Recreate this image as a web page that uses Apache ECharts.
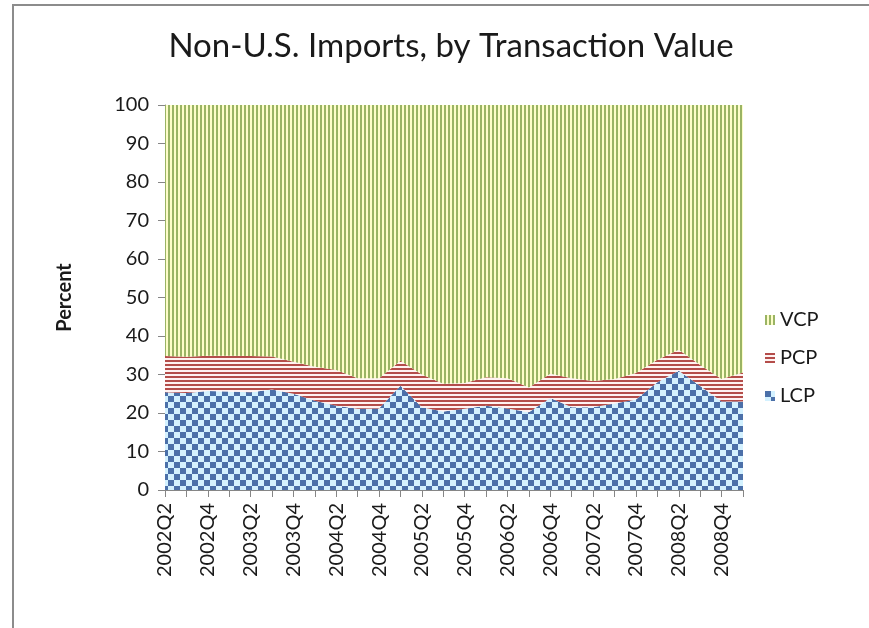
<!DOCTYPE html>
<html>
<head>
<meta charset="utf-8">
<script src="https://cdn.jsdelivr.net/npm/echarts@6/dist/echarts.min.js"></script>
<style>
    body { margin: 0; background: #fff; overflow: hidden; }
    #chart { width: 869px; height: 628px; }
    #frame {
        position: absolute; left: 12px; top: 4px; width: 880px; height: 640px;
        border-top: 2px solid #8c8c8c; border-left: 2px solid #8c8c8c;
        pointer-events: none;
    }
</style>
</head>
<body>
<div id="chart"></div>
<div id="frame"></div>
<script>
// quarters on the x axis
var quarters = ['2002Q2', '2002Q3', '2002Q4', '2003Q1', '2003Q2', '2003Q3', '2003Q4',
    '2004Q1', '2004Q2', '2004Q3', '2004Q4', '2005Q1', '2005Q2', '2005Q3', '2005Q4',
    '2006Q1', '2006Q2', '2006Q3', '2006Q4', '2007Q1', '2007Q2', '2007Q3', '2007Q4',
    '2008Q1', '2008Q2', '2008Q3', '2008Q4', '2009Q1'];

// shares of transaction value, percent
var lcp = [25.4, 25.2, 25.7, 25.6, 25.4, 26.1, 25.0, 23.2, 21.9, 21.1, 21.2, 27.1, 21.5, 20.4,
    21.1, 21.9, 21.2, 20.2, 23.9, 21.5, 21.5, 22.5, 23.5, 28.0, 31.0, 27.0, 23.0, 23.0];
var pcp = [9.4, 9.4, 9.2, 9.3, 9.4, 8.6, 8.3, 8.8, 9.3, 7.9, 7.8, 6.5, 8.5, 7.2,
    6.7, 7.4, 7.8, 6.4, 6.3, 7.5, 6.8, 6.3, 6.9, 5.8, 5.4, 5.5, 5.8, 7.5];
var vcp = [65.2, 65.4, 65.1, 65.1, 65.2, 65.3, 66.7, 68.0, 68.8, 71.0, 71.0, 66.4, 70.0, 72.4,
    72.2, 70.7, 71.0, 73.4, 69.8, 71.0, 71.7, 71.2, 69.6, 66.2, 63.6, 67.5, 71.2, 69.5];

var yTicks = [0, 10, 20, 30, 40, 50, 60, 70, 80, 90, 100];

// small canvas tiles used as fill patterns (Excel style hatches)
function makeTile(size, bg, fg, paint) {
    var c = document.createElement('canvas');
    c.width = size;
    c.height = size;
    var ctx = c.getContext('2d');
    ctx.fillStyle = bg;
    ctx.fillRect(0, 0, size, size);
    ctx.fillStyle = fg;
    paint(ctx, size);
    return { image: c, repeat: 'repeat' };
}

var checker = makeTile(12, '#d3f1ff', '#4b70a9', function (ctx, s) {
    ctx.fillRect(0, 0, s / 2, s / 2);
    ctx.fillRect(s / 2, s / 2, s / 2, s / 2);
});
var hStripes = makeTile(4, '#fff2f1', '#b44d4a', function (ctx, s) {
    ctx.fillRect(0, 0, s, 2);
});
var vStripes = makeTile(4, '#fdfdc8', '#9ab464', function (ctx, s) {
    ctx.fillRect(0, 0, 2, s);
});

function areaSeries(name, data, fill) {
    return {
        name: name,
        type: 'line',
        stack: 'total',
        data: data,
        symbol: 'none',
        lineStyle: { width: 0 },
        itemStyle: { color: fill },
        areaStyle: { color: fill, opacity: 1 },
        emphasis: { disabled: true }
    };
}

var myChart = echarts.init(document.getElementById('chart'));

var font = 'Lato, "Open Sans", sans-serif';

var option = {
    animation: false,
    textStyle: { fontFamily: font, color: '#1a1a1a' },
    title: {
        text: 'Non-U.S. Imports, by Transaction Value',
        left: 446,
        textAlign: 'center',
        top: 25,
        textStyle: { fontFamily: font, fontSize: 33, fontWeight: 'normal', color: '#1a1a1a' }
    },
    legend: {
        orient: 'vertical',
        left: 760,
        top: 305,
        itemGap: 18,
        itemWidth: 10,
        itemHeight: 10,
        icon: 'rect',
        data: ['VCP', 'PCP', 'LCP'],
        textStyle: { fontFamily: font, fontSize: 20, color: '#1a1a1a' }
    },
    grid: {
        left: 165,
        right: 126,
        top: 105,
        bottom: 138
    },
    xAxis: {
        type: 'category',
        boundaryGap: false,
        data: quarters,
        axisLine: { lineStyle: { color: '#868686', width: 1 } },
        axisTick: { interval: 0, length: 7, lineStyle: { color: '#868686' } },
        axisLabel: {
            interval: 1,
            rotate: 90,
            margin: 13,
            fontSize: 20,
            fontFamily: font,
            color: '#1a1a1a'
        }
    },
    yAxis: {
        type: 'value',
        min: yTicks[0],
        max: yTicks[yTicks.length - 1],
        interval: 10,
        name: 'Percent',
        nameLocation: 'middle',
        nameGap: 90,
        nameTextStyle: { fontFamily: font, fontSize: 20, fontWeight: 'bold', color: '#1a1a1a' },
        axisLine: { show: true, lineStyle: { color: '#868686', width: 1 } },
        axisTick: { show: true, length: 7, lineStyle: { color: '#868686' } },
        splitLine: { show: false },
        axisLabel: { fontSize: 20, margin: 16, fontFamily: font, color: '#1a1a1a' }
    },
    series: [
        areaSeries('LCP', lcp, checker),
        areaSeries('PCP', pcp, hStripes),
        areaSeries('VCP', vcp, vStripes)
    ]
};

myChart.setOption(option);
</script>
</body>
</html>
